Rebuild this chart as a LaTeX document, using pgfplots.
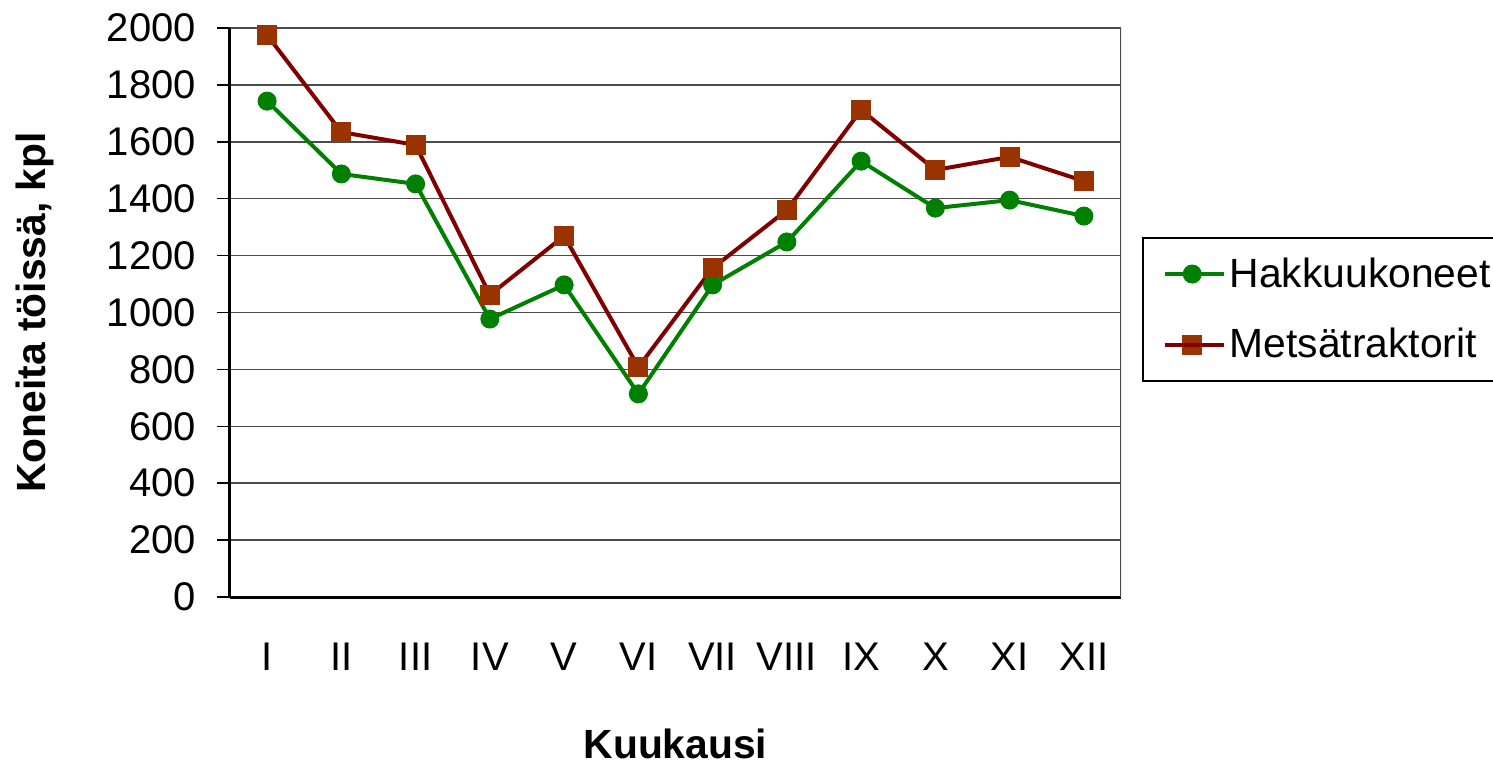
\documentclass[border=0pt]{standalone}
\usepackage{pgfplots}
\pgfplotsset{compat=1.18}
\usepackage{fontspec}
\setmainfont{Liberation Sans}
\definecolor{hgreen}{RGB}{0,128,0}
\definecolor{mline}{RGB}{128,0,0}
\definecolor{mmark}{RGB}{153,51,0}
\begin{document}
\begin{tikzpicture}
\useasboundingbox (-115pt,-82.5pt) rectangle (631.5pt,298.5pt);
\begin{axis}[
  at={(0,0)}, anchor=south west,
  width=445.5pt, height=284.5pt, scale only axis,
  xmin=0.5, xmax=12.5, ymin=0, ymax=2000,
  axis x line*=bottom, axis y line*=left,
  axis line style={line width=1.5pt, black, -},
  xtick={1,...,12},
  xticklabels={I,II,III,IV,V,VI,VII,VIII,IX,X,XI,XII},
  major x tick style={draw=none},
  extra x ticks={0.5,1.5,...,12.5},
  extra x tick labels={},
  extra x tick style={grid=none, major tick length=5.5pt, tick style={line width=0.75pt, black, draw=black}},
  ytick={0,200,...,2000},
  tick align=outside,
  major tick length=6.5pt,
  y tick style={line width=0.75pt, black},
  ymajorgrids,
  grid style={line width=0.75pt, black!70},
  /pgf/number format/assume math mode=true,
  /pgf/number format/1000 sep={},
  tick label style={font=\fontsize{20}{24}\selectfont},
  xticklabel style={yshift=-13pt},
  yticklabel style={xshift=-7pt},
  xlabel={\bfseries Kuukausi},
  ylabel={\bfseries Koneita töissä, kpl},
  label style={font=\fontsize{20.4}{24.5}\selectfont, inner sep=0pt},
  xlabel style={at={(axis description cs:0.5,-0.2575)}, anchor=center},
  ylabel style={at={(axis description cs:-0.2189,0.5)}, anchor=center},
  legend style={at={(1.02357,0.63269)}, anchor=north west, draw=black, line width=0.75pt,
    font=\fontsize{20.4}{24.5}\selectfont, row sep=15pt, inner xsep=10pt, inner ysep=8pt},
  legend cell align=left,
  legend image code/.code={
    \draw[#1, mark repeat=2, mark phase=2] plot coordinates {(0pt,0pt) (13.75pt,0pt) (27.5pt,0pt)};
    \path (0pt,0pt) -- (29.5pt,0pt);
  },
]
\addplot[hgreen, line width=2pt, mark=*, mark size=4.5pt, mark options={fill=hgreen, draw=hgreen, line width=0.5pt}]
 coordinates {(1,1743) (2,1487) (3,1452) (4,977) (5,1097) (6,714) (7,1097) (8,1248) (9,1532) (10,1367) (11,1395) (12,1339)};
\addlegendentry{Hakkuukoneet}
\addplot[mline, line width=2pt, mark=square*, mark size=4.75pt, mark options={fill=mmark, draw=mmark, line width=0.5pt}]
 coordinates {(1,1975) (2,1634) (3,1589) (4,1062) (5,1269) (6,808) (7,1156) (8,1360) (9,1712) (10,1501) (11,1547) (12,1462)};
\addlegendentry{Metsätraktorit}
\draw[black!70, line width=0.75pt] (rel axis cs:1,0) -- (rel axis cs:1,1);
\end{axis}
\end{tikzpicture}
\end{document}
